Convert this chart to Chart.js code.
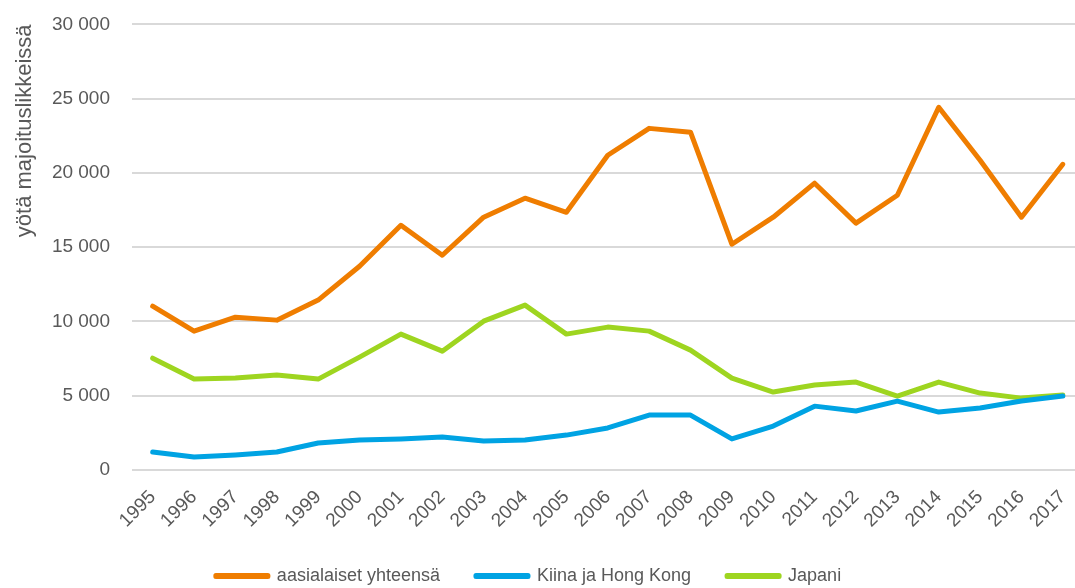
<!DOCTYPE html>
<html>
<head>
<meta charset="utf-8">
<script src="https://cdn.jsdelivr.net/npm/chart.js@4"></script>
<style>
  html, body { margin: 0; padding: 0; background: #fff; overflow: hidden; }
  /* piirtoalue jatkuu hieman ikkunan ulkopuolelle kuten alkuperäisessä */
  #wrap { width: 1131px; height: 604px; margin-left: -36px; margin-top: -9px; }
</style>
</head>
<body>
<div id="wrap"><canvas id="chart"></canvas></div>
<script>
// Vuodet ja sarjat (luettu kuvasta)
const years = ["1995","1996","1997","1998","1999","2000","2001","2002","2003","2004","2005","2006",
  "2007","2008","2009","2010","2011","2012","2013","2014","2015","2016","2017"];
const asiaTotal = [11030, 9350, 10290, 10090, 11440, 13720, 16480, 14460, 17020, 18300, 17350, 21190,
  23000, 22740, 15200, 17020, 19310, 16620, 18500, 24420, 20850, 17020, 20580];
const chinaHk = [1210, 870, 1010, 1210, 1820, 2020, 2090, 2220, 1950, 2020, 2350, 2830,
  3700, 3700, 2090, 2960, 4300, 3970, 4640, 3900, 4170, 4640, 4980];
const japan = [7530, 6120, 6190, 6390, 6120, 7600, 9150, 8000, 10020, 11100, 9150, 9620,
  9350, 8070, 6190, 5250, 5720, 5920, 4980, 5920, 5180, 4840, 5050];
const seriesNames = ["aasialaiset yhteensä", "Kiina ja Hong Kong", "Japani"];
const yTicks = [0, 5000, 10000, 15000, 20000, 25000, 30000];

const FONT = "'Liberation Sans Narrow', 'Liberation Sans', Arial, sans-serif";
const TEXT = "#595959";

function lineSet(label, data, color) {
  return {
    label: label,
    data: data,
    borderColor: color,
    backgroundColor: color,
    borderWidth: 5,
    borderCapStyle: "round",
    borderJoinStyle: "round",
    pointRadius: 0,
    pointHoverRadius: 0,
    tension: 0,
    fill: false,
  };
}

document.addEventListener("DOMContentLoaded", function () {
  const ctx = document.getElementById("chart");
  new Chart(ctx, {
    type: "line",
    data: {
      labels: years,
      datasets: [
        lineSet(seriesNames[0], asiaTotal, "#EF7D00"),
        lineSet(seriesNames[1], chinaHk, "#00A3E3"),
        lineSet(seriesNames[2], japan, "#9ED520"),
      ],
    },
    options: {
      responsive: true,
      maintainAspectRatio: false,
      animation: false,
      layout: { padding: { top: 0, right: 2, left: 0, bottom: 0 } },
      plugins: {
        tooltip: { enabled: false },
        legend: {
          position: "bottom",
          labels: {
            font: { family: FONT, size: 18 },
            color: TEXT,
            boxWidth: 52,
            boxHeight: 1,
            padding: 36,
          },
        },
      },
      scales: {
        x: {
          offset: true,
          grid: { display: false, drawTicks: false },
          border: { display: false },
          afterFit: function (axis) { axis.height = 61; },
          ticks: {
            font: { family: FONT, size: 19 },
            color: TEXT,
            maxRotation: 45,
            minRotation: 45,
            padding: 16,
            autoSkip: false,
          },
        },
        y: {
          min: 0,
          max: 30000,
          afterBuildTicks: function (axis) {
            axis.ticks = yTicks.map(function (v) { return { value: v }; });
          },
          afterFit: function (axis) { axis.width = 168; },
          grid: { color: "#D9D9D9", lineWidth: 2, drawTicks: false },
          border: { display: false },
          ticks: {
            font: { family: FONT, size: 19 },
            color: TEXT,
            padding: 22,
            callback: function (v) {
              return String(v).replace(/\B(?=(\d{3})+(?!\d))/g, " ");
            },
          },
          title: {
            display: true,
            text: "yötä majoituslikkeissä",
            align: "end",
            font: { family: FONT, size: 22 },
            color: TEXT,
            padding: { top: 48, bottom: 0 },
          },
        },
      },
    },
  });
});
</script>
</body>
</html>
